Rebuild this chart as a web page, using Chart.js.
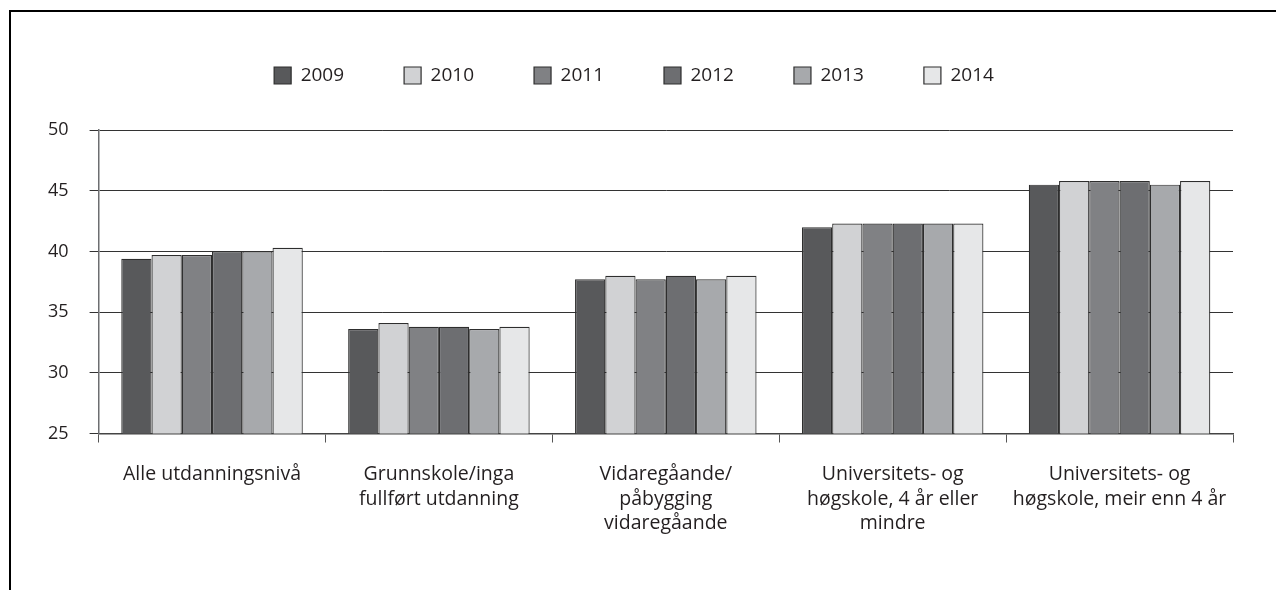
<!DOCTYPE html>
<html>
<head>
<meta charset="utf-8">
<script src="https://cdn.jsdelivr.net/npm/chart.js@4"></script>
<style>
  body { margin: 0; background: #ffffff; }
  canvas { display: block; }
</style>
</head>
<body>
<canvas id="wage_chart" width="1276" height="590"></canvas>
<script>
const categories = [
  ["Alle utdanningsnivå"],
  ["Grunnskole/inga", "fullført utdanning"],
  ["Vidaregåande/", "påbygging", "vidaregåande"],
  ["Universitets- og", "høgskole, 4 år eller", "mindre"],
  ["Universitets- og", "høgskole, meir enn 4 år"]
];
const years = ["2009", "2010", "2011", "2012", "2013", "2014"];
const values_2009 = [39.4, 33.6, 37.7, 42.0, 45.5];
const values_2010 = [39.7, 34.1, 38.0, 42.3, 45.8];
const values_2011 = [39.7, 33.8, 37.7, 42.3, 45.8];
const values_2012 = [40.0, 33.8, 38.0, 42.3, 45.8];
const values_2013 = [40.0, 33.6, 37.7, 42.3, 45.5];
const values_2014 = [40.3, 33.8, 38.0, 42.3, 45.8];
const y_ticks = [25, 30, 35, 40, 45, 50];

const series = [values_2009, values_2010, values_2011, values_2012, values_2013, values_2014];
const fills = ["#58595b", "#d1d2d4", "#808184", "#6d6e71", "#a7a9ac", "#e6e7e8"];

// frame line along top and left edge of the figure
const framePlugin = {
  id: 'frame',
  beforeDraw(chart) {
    const ctx = chart.ctx;
    ctx.save();
    ctx.strokeStyle = "#000000";
    ctx.lineWidth = 2;
    ctx.beginPath();
    ctx.moveTo(10, 600);
    ctx.lineTo(10, 11);
    ctx.lineTo(1290, 11);
    ctx.stroke();
    ctx.restore();
  }
};

// legend gets a fixed height so the plot starts lower down, and a small nudge right
const legendHeightPlugin = {
  id: 'legendHeight',
  beforeInit(chart) {
    const origFit = chart.legend.fit;
    chart.legend.fit = function () {
      origFit.call(this);
      this.height = 124;
    };
  },
  afterLayout(chart) {
    chart.legend.left += 4;
    chart.legend.right += 4;
  }
};

function build_datasets() {
  return years.map(function (year, i) {
    return {
      label: year,
      data: series[i],
      backgroundColor: fills[i],
      borderColor: "#2e2e2e",
      borderWidth: 1.2,
      borderSkipped: false,
      categoryPercentage: 0.8,
      barPercentage: 1.0
    };
  });
}

function draw_wage_chart() {
  const ctx = document.getElementById("wage_chart").getContext('2d');
  const fontFamily = "'Open Sans', 'DejaVu Sans', sans-serif";

  new Chart(ctx, {
    type: 'bar',
    data: {
      labels: categories,
      datasets: build_datasets()
    },
    plugins: [framePlugin, legendHeightPlugin],
    options: {
      responsive: false,
      animation: false,
      layout: {
        padding: { left: 27, right: 43, top: 6, bottom: 34 }
      },
      plugins: {
        legend: {
          position: 'top',
          labels: {
            boxWidth: 17,
            boxHeight: 17,
            padding: 60,
            color: "#231f20",
            font: { family: fontFamily, size: 19 }
          }
        },
        tooltip: { enabled: false }
      },
      scales: {
        x: {
          grid: {
            offset: true,
            drawOnChartArea: false,
            drawTicks: true,
            tickLength: 9,
            color: "#555555"
          },
          border: { color: "#444444", width: 1.5 },
          ticks: {
            color: "#231f20",
            padding: 20,
            maxRotation: 0,
            autoSkip: false,
            font: { family: fontFamily, size: 19.5, lineHeight: 1.256 }
          }
        },
        y: {
          min: 25,
          max: 50,
          afterBuildTicks: function (axis) {
            axis.ticks = y_ticks.map(function (v) { return { value: v }; });
          },
          grid: {
            color: "#333333",
            lineWidth: 1,
            tickLength: 9
          },
          border: { color: "#6d6e71", width: 1.5 },
          ticks: {
            color: "#231f20",
            padding: 21,
            font: { family: fontFamily, size: 18 }
          }
        }
      }
    }
  });
}

draw_wage_chart();
</script>
</body>
</html>
